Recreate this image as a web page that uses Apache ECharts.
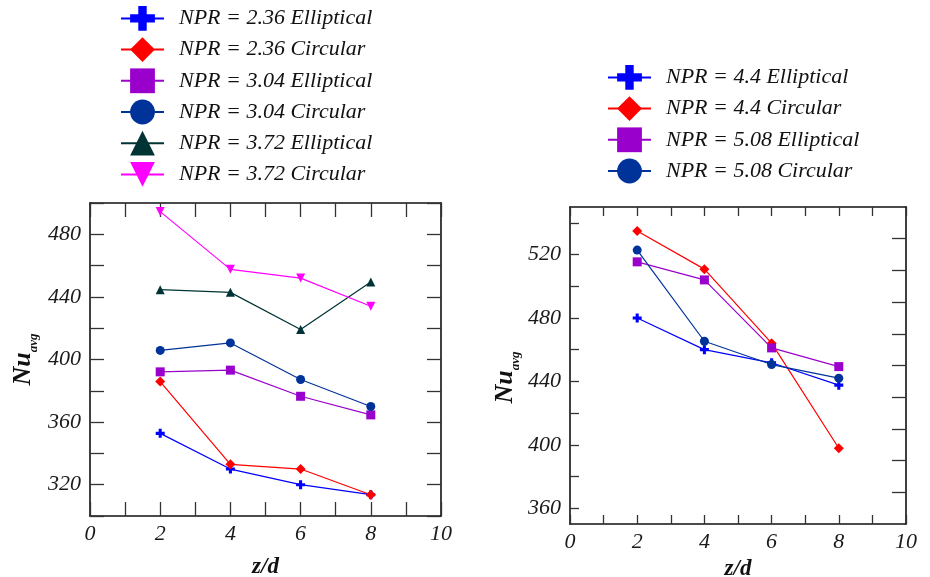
<!DOCTYPE html>
<html>
<head>
<meta charset="utf-8">
<script src="https://cdn.jsdelivr.net/npm/echarts@6/dist/echarts.min.js"></script>
<style>
  html, body { margin: 0; padding: 0; background: #fff; }
  #chart { width: 930px; height: 577px; }
</style>
</head>
<body>
<div id="chart"></div>
<script>
// z/d stations shared by every series
const zd = [2, 4, 6, 8];

// Left panel: NPR 2.36 - 3.72
const npr236Elliptical = [352.8, 330.0, 320.0, 313.6];
const npr236Circular   = [385.9, 333.0, 330.0, 313.6];
const npr304Elliptical = [392.1, 393.2, 376.5, 364.6];
const npr304Circular   = [405.8, 410.6, 387.2, 370.0];
const npr372Elliptical = [444.6, 442.9, 419.2, 449.5];
const npr372Circular   = [494.5, 457.6, 452.0, 434.0];

// Right panel: NPR 4.4 - 5.08
const npr44Elliptical  = [480.0, 460.0, 451.7, 437.6];
const npr44Circular    = [534.8, 510.8, 464.1, 397.8];
const npr508Elliptical = [515.4, 504.0, 461.1, 449.3];
const npr508Circular   = [522.8, 465.3, 450.6, 442.0];

// Tick values
const xLabelValues = [0, 2, 4, 6, 8, 10];
const leftYLabelValues = [320, 360, 400, 440, 480];
const rightYLabelValues = [360, 400, 440, 480, 520];
const rightYTickValues = [360, 380, 400, 420, 440, 460, 480, 500, 520, 540];
const rightYMirrorTickValues = [370, 390, 410, 430, 450, 470, 490, 510, 530];

const PLUS = 'path://M3.3,0 H6.7 V3.3 H10 V6.7 H6.7 V10 H3.3 V6.7 H0 V3.3 H3.3 Z';
const DOWN_TRI = 'path://M0,0 L10,0 L5,8.6 Z';
const UP_TRI = 'path://M5,0 L10,8.6 L0,8.6 Z';

const SERIF = "'Liberation Serif', 'DejaVu Serif', serif";

function pairs(ys) { return zd.map((x, i) => [x, ys[i]]); }

function line(name, ys, color, symbol, size, xi, yi) {
  return {
    type: 'line', name: name, data: pairs(ys),
    xAxisIndex: xi, yAxisIndex: yi,
    symbol: symbol, symbolSize: size,
    lineStyle: { color: color, width: 1.2 },
    itemStyle: { color: color },
    animation: false
  };
}

const labelStyle = { fontFamily: SERIF, fontStyle: 'italic', fontSize: 22, color: '#1a1a1a' };
const tickStyle = { color: '#333', width: 1.3 };
const boxLine = { show: true, onZero: false, lineStyle: { color: '#111', width: 1.6 } };

const yName = '{a|Nu}{b|avg}';
const yNameRich = {
  a: { fontFamily: SERIF, fontStyle: 'italic', fontWeight: 'bold', fontSize: 26, color: '#111', lineHeight: 34, verticalAlign: 'middle' },
  b: { fontFamily: SERIF, fontStyle: 'italic', fontWeight: 'bold', fontSize: 13, color: '#111', lineHeight: 34, verticalAlign: 'bottom' }
};
const xNameStyle = { fontFamily: SERIF, fontStyle: 'italic', fontWeight: 'bold', fontSize: 23, color: '#111' };

function xAxes(gridIndex, gap, tickLen) {
  return [
    {
      type: 'value', gridIndex: gridIndex, position: 'bottom', min: 0, max: 10, interval: 1,
      axisLine: boxLine,
      axisTick: { inside: true, length: tickLen, lineStyle: tickStyle },
      axisLabel: Object.assign({ customValues: xLabelValues, margin: 7 }, labelStyle),
      splitLine: { show: false },
      name: 'z/d', nameLocation: 'middle', nameGap: gap, nameTextStyle: xNameStyle
    },
    {
      type: 'value', gridIndex: gridIndex, position: 'top', min: 0, max: 10, interval: 1,
      axisLine: boxLine,
      axisTick: { inside: true, length: tickLen, lineStyle: tickStyle },
      axisLabel: { show: false },
      splitLine: { show: false }
    }
  ];
}

const legendText = { fontFamily: SERIF, fontStyle: 'italic', fontSize: 22, color: '#111', padding: [0, 0, 0, 10] };

const option = {
  backgroundColor: '#fff',
  animation: false,
  legend: [
    {
      left: 120, top: 6, orient: 'vertical', padding: 0,
      itemWidth: 43, itemHeight: 31, itemGap: 6.4,
      textStyle: legendText,
      data: ['NPR = 2.36 Elliptical', 'NPR = 2.36 Circular', 'NPR = 3.04 Elliptical',
             'NPR = 3.04 Circular', 'NPR = 3.72 Elliptical', 'NPR = 3.72 Circular']
    },
    {
      left: 607, top: 65, orient: 'vertical', padding: 0,
      itemWidth: 43, itemHeight: 31, itemGap: 6.4,
      textStyle: legendText,
      data: ['NPR = 4.4 Elliptical', 'NPR = 4.4 Circular', 'NPR = 5.08 Elliptical', 'NPR = 5.08 Circular']
    }
  ],
  grid: [
    { left: 90, top: 203, width: 351, height: 313, outerBoundsMode: 'none', containLabel: false },
    { left: 570, top: 207, width: 336, height: 317, outerBoundsMode: 'none', containLabel: false }
  ],
  xAxis: [].concat(xAxes(0, 40, 14), xAxes(1, 27, 9)),
  yAxis: [
    {
      type: 'value', gridIndex: 0, position: 'left', min: 300, max: 500, interval: 20,
      axisLine: boxLine,
      axisTick: { inside: true, length: 14, lineStyle: tickStyle },
      axisLabel: Object.assign({ customValues: leftYLabelValues, margin: 9 }, labelStyle),
      splitLine: { show: false },
      name: yName, nameLocation: 'middle', nameRotate: 90, nameGap: 50,
      nameTextStyle: { rich: yNameRich }
    },
    {
      type: 'value', gridIndex: 0, position: 'right', min: 300, max: 500, interval: 20,
      axisLine: boxLine,
      axisTick: { inside: true, length: 14, lineStyle: tickStyle },
      axisLabel: { show: false },
      splitLine: { show: false }
    },
    {
      type: 'value', gridIndex: 1, position: 'left', min: 350, max: 550,
      axisLine: boxLine,
      axisTick: { inside: true, length: 9, lineStyle: tickStyle, customValues: rightYTickValues },
      axisLabel: Object.assign({ customValues: rightYLabelValues, margin: 9 }, labelStyle),
      splitLine: { show: false },
      name: yName, nameLocation: 'middle', nameRotate: 90, nameGap: 48,
      nameTextStyle: { rich: yNameRich, padding: [0, 24, 0, 0] }
    },
    {
      type: 'value', gridIndex: 1, position: 'right', min: 350, max: 550,
      axisLine: boxLine,
      axisTick: { inside: true, length: 14, lineStyle: tickStyle, customValues: rightYMirrorTickValues },
      axisLabel: { show: false },
      splitLine: { show: false }
    }
  ],
  series: [
    line('NPR = 2.36 Elliptical', npr236Elliptical, '#0000ff', PLUS, 9, 0, 0),
    line('NPR = 2.36 Circular', npr236Circular, '#ff0000', 'diamond', 10, 0, 0),
    line('NPR = 3.04 Elliptical', npr304Elliptical, '#9900cc', 'rect', 9, 0, 0),
    line('NPR = 3.04 Circular', npr304Circular, '#003399', 'circle', 9, 0, 0),
    line('NPR = 3.72 Elliptical', npr372Elliptical, '#003333', UP_TRI, 9, 0, 0),
    line('NPR = 3.72 Circular', npr372Circular, '#ff00ff', DOWN_TRI, 9, 0, 0),

    line('NPR = 4.4 Elliptical', npr44Elliptical, '#0000ff', PLUS, 9, 2, 2),
    line('NPR = 4.4 Circular', npr44Circular, '#ff0000', 'diamond', 10, 2, 2),
    line('NPR = 5.08 Elliptical', npr508Elliptical, '#9900cc', 'rect', 9, 2, 2),
    line('NPR = 5.08 Circular', npr508Circular, '#003399', 'circle', 9, 2, 2)
  ]
};

const chart = echarts.init(document.getElementById('chart'), null, { renderer: 'canvas' });
chart.setOption(option);
</script>
</body>
</html>
